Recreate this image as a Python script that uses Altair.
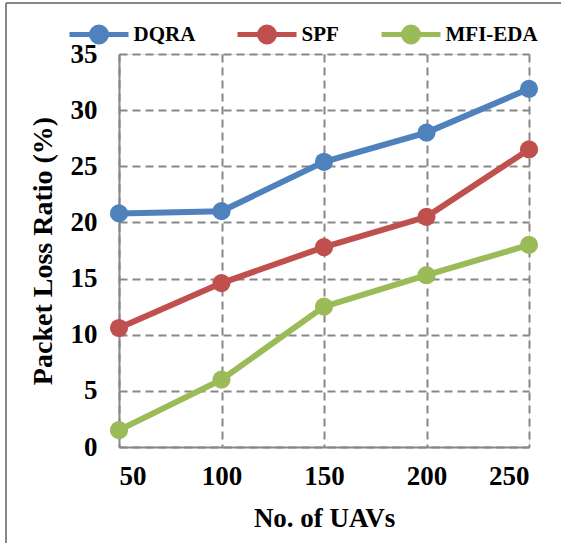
import altair as alt
import pandas as pd

uavs = [50, 100, 150, 200, 250]
dqra = [20.8, 21.0, 25.4, 28.0, 31.9]
spf = [10.6, 14.6, 17.8, 20.5, 26.5]
mfi = [1.5, 6.0, 12.5, 15.3, 18.0]
series = ["DQRA", "SPF", "MFI-EDA"]
colors = ["#4F81BD", "#C0504D", "#9BBB59"]

rows = []
for name, vals in zip(series, [dqra, spf, mfi]):
    for u, v in zip(uavs, vals):
        rows.append({"uavs": u, "ratio": v, "series": name})
df = pd.DataFrame(rows)

FONT = "Liberation Serif"
GRAY = "#878787"

color = alt.Color(
    "series:N",
    scale=alt.Scale(domain=series, range=colors),
    legend=alt.Legend(
        title=None,
        orient="none",
        legendX=-42.5,
        legendY=-42,
        padding=0,
        direction="horizontal",
        symbolType="M-1.475,0L1.475,0M0.375,0A0.375,0.375,0,1,1,-0.375,0A0.375,0.375,0,1,1,0.375,0",
        symbolSize=1600,
        symbolStrokeWidth=5,
        symbolOpacity=1,
        labelFont=FONT,
        labelFontSize=21,
        labelFontWeight="bold",
        labelColor="black",
        labelOffset=12,
        columnPadding=32,
    ),
)

x = alt.X(
    "uavs:Q",
    scale=alt.Scale(domain=[50, 250], nice=False),
    axis=alt.Axis(
        values=uavs,
        title="No. of UAVs",
        titleFont=FONT,
        titleFontSize=27,
        titleFontWeight="bold",
        titleColor="black",
        titlePadding=16,
        labelFont=FONT,
        labelFontSize=27,
        labelFontWeight="bold",
        labelColor="black",
        labelPadding=16,
        ticks=False,
        domainColor=GRAY,
        domainWidth=2,
        gridColor=GRAY,
        gridWidth=2,
        gridDash=[8, 5],
    ),
)
y = alt.Y(
    "ratio:Q",
    scale=alt.Scale(domain=[0, 35], nice=False),
    axis=alt.Axis(
        values=[0, 5, 10, 15, 20, 25, 30, 35],
        title="Packet Loss Ratio (%)",
        titleFont=FONT,
        titleFontSize=28,
        titleFontWeight="bold",
        titleColor="black",
        titlePadding=13,
        labelFont=FONT,
        labelFontSize=27,
        labelFontWeight="bold",
        labelColor="black",
        labelPadding=22,
        ticks=False,
        domainColor=GRAY,
        domainWidth=2,
        gridColor=GRAY,
        gridWidth=2,
        gridDash=[8, 5],
    ),
)

base = alt.Chart(df)
lines = base.mark_line(strokeWidth=6).encode(x=x, y=y, color=color)
points = base.mark_circle(size=330, opacity=1).encode(x=x, y=y, color=color)

one = pd.DataFrame({"a": [0]})
top_border = alt.Chart(one).mark_rule(stroke=GRAY, strokeWidth=2).encode(
    x=alt.value(-113), x2=alt.value(520), y=alt.value(-51)
)
left_border = alt.Chart(one).mark_rule(stroke=GRAY, strokeWidth=2).encode(
    x=alt.value(-113), y=alt.value(-51), y2=alt.value(600)
)

chart = alt.layer(top_border, left_border, lines, points).properties(
    width=410, height=393,
    autosize=alt.AutoSizeParams(type="none"),
    padding={"left": 119, "top": 54, "right": 32, "bottom": 96},
).configure_view(stroke=GRAY, strokeWidth=2).configure(background="white")

chart.save("out.html", embed_options={"renderer": "svg", "actions": False})
